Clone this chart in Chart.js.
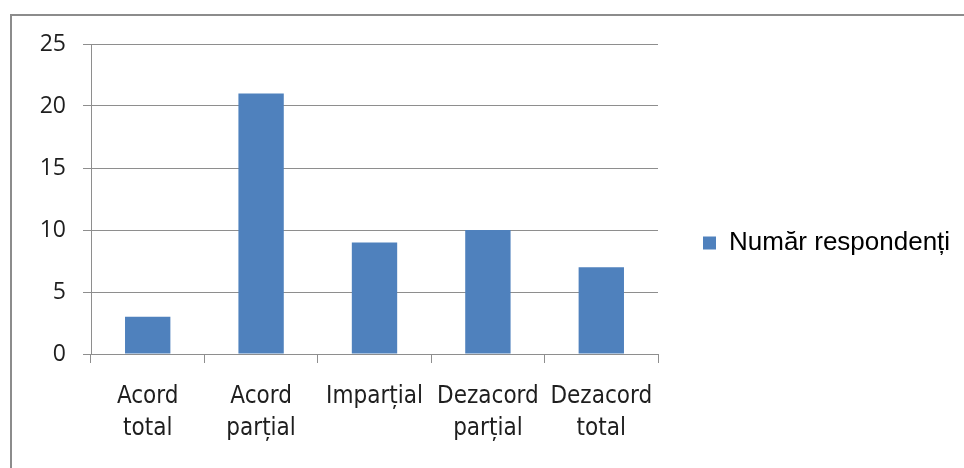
<!DOCTYPE html>
<html>
<head>
<meta charset="utf-8">
<script src="https://cdn.jsdelivr.net/npm/chart.js@4"></script>
<style>
  body { margin: 0; background: #fff; }
  #frame { position: absolute; left: 10px; top: 14px; width: 970px; height: 470px;
           border-top: 2px solid #8c8c8c; border-left: 2px solid #8c8c8c; }
  #wrap { position: absolute; left: 0; top: 0; width: 964px; height: 468px; }
</style>
</head>
<body>
<div id="frame"></div>
<div id="wrap"><canvas id="graph"></canvas></div>
<script>
const categories = [["Acord", "total"], ["Acord", "parțial"], "Imparțial", ["Dezacord", "parțial"], ["Dezacord", "total"]];
const respondents = [3, 21, 9, 10, 7];
const seriesName = "Număr respondenți";
const yTicks = [0, 5, 10, 15, 20, 25];

const ctx = document.getElementById("graph").getContext("2d");
const axisColor = "#8e8e8e";
const labelFont = "'Liberation Sans Narrow', 'DejaVu Sans Condensed', 'Open Sans', sans-serif";

// legend sits in a fixed strip on the right, box around x=703
const legendPlace = {
    id: 'legendPlace',
    beforeLayout(chart) {
        const lg = chart.legend;
        if (lg && !lg._fixed) {
            const fit = lg.fit.bind(lg);
            lg.fit = function () { fit(); this.width = 306; };
            lg._fixed = true;
        }
    },
    afterLayout(chart) {
        const lg = chart.legend;
        lg.left = 697;
        lg.right = 964;
        lg.top = 44;
        lg.bottom = 442;
    }
};

let chart = new Chart(ctx, {
    type: 'bar',
    data: {
        labels: categories,
        datasets: [{
            label: seriesName,
            data: respondents,
            backgroundColor: '#4f81bd',
            borderWidth: 0,
            barPercentage: 0.4,
            categoryPercentage: 1
        }]
    },
    options: {
        responsive: true,
        maintainAspectRatio: false,
        animation: false,
        layout: { padding: { top: 44, right: 0, left: 0, bottom: 0 } },
        plugins: {
            tooltip: { enabled: false },
            legend: {
                position: 'right',
                labels: {
                    boxWidth: 13,
                    boxHeight: 13,
                    padding: 6,
                    color: '#000',
                    font: { family: 'Liberation Sans', size: 26 }
                }
            }
        },
        scales: {
            x: {
                grid: { drawOnChartArea: false, offset: true, tickLength: 9, color: axisColor },
                border: { color: axisColor },
                ticks: {
                    color: '#1e1e1e',
                    padding: 18,
                    maxRotation: 0,
                    font: { family: labelFont, size: 24, lineHeight: 1.333 }
                },
                afterFit: scale => { scale.height = 114; }
            },
            y: {
                min: 0,
                max: 25,
                afterBuildTicks: scale => { scale.ticks = yTicks.map(v => ({ value: v })); },
                grid: { color: axisColor, tickLength: 8 },
                border: { color: axisColor },
                ticks: {
                    color: '#1e1e1e',
                    padding: 17,
                    font: { family: 'Open Sans', size: 23 }
                },
                afterFit: scale => { scale.width = 91; }
            }
        }
    },
    plugins: [legendPlace]
});
</script>
</body>
</html>
